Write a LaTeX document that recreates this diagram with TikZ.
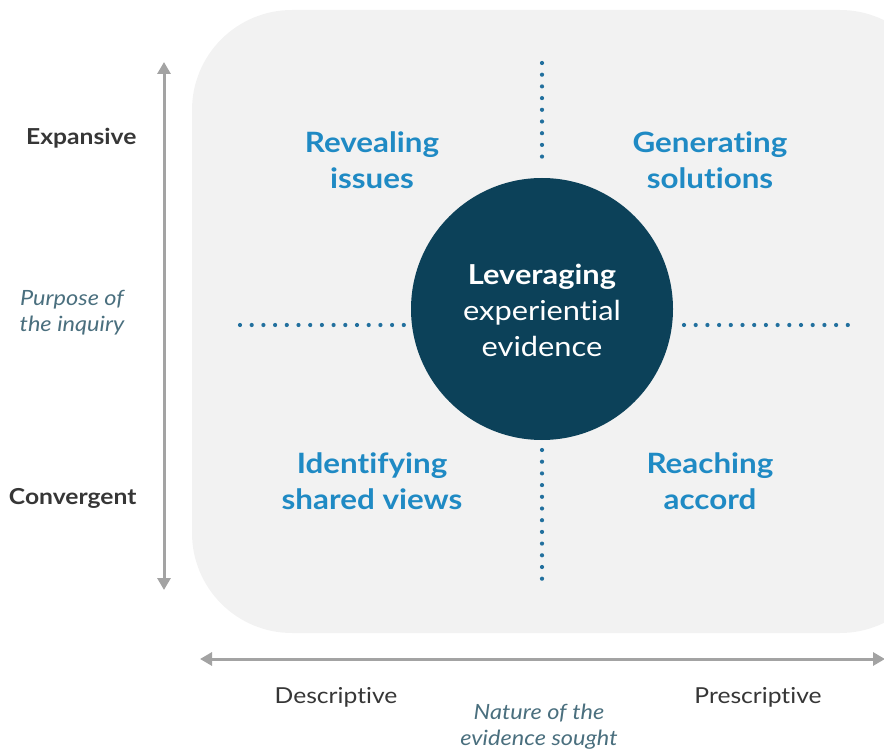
\documentclass[tikz,border=0pt]{standalone}
\usepackage{fontspec}
\setmainfont{Lato}[FakeStretch=1.12, Ligatures=NoCommon, RawFeature=-liga]
\usetikzlibrary{arrows.meta}
\definecolor{panel}{HTML}{F2F2F2}
\definecolor{quadblue}{HTML}{1F8AC4}
\definecolor{hub}{HTML}{0C4159}
\definecolor{dotblue}{HTML}{22709E}
\definecolor{axisgray}{HTML}{A3A3A3}
\definecolor{labelgray}{HTML}{363636}
\definecolor{axisname}{HTML}{4A6F7E}
\tikzset{
  quad/.style={align=center, text=quadblue, font=\fontsize{28}{36}\selectfont\bfseries},
  pole/.style={text=labelgray, font=\fontsize{22}{26}\selectfont\bfseries},
  axistitle/.style={align=center, text=axisname, font=\fontsize{21}{26}\selectfont\itshape},
  axisline/.style={draw=axisgray, line width=3pt, {Triangle[length=12pt,width=13pt]}-{Triangle[length=12pt,width=13pt]}},
  dotline/.style={draw=dotblue, line width=4.2pt, line cap=round, dash pattern=on 0pt off 11.7pt},
}
\begin{document}
\begin{tikzpicture}[x=1pt, y=-1pt]
\useasboundingbox (0,0) rectangle (884,751);
\clip (0,0) rectangle (884,751);
% background panel
\fill[panel, rounded corners=100pt] (192,10) rectangle (940,633);
% dotted axes of the quadrants
\coordinate (vt1) at (542,63);  \coordinate (vt2) at (542,168);
\coordinate (vb1) at (542,450); \coordinate (vb2) at (542,590);
\coordinate (hl1) at (240,325); \coordinate (hl2) at (404,325);
\coordinate (hr1) at (684,325); \coordinate (hr2) at (848,325);
\draw[dotline] (vt1) -- (vt2);
\draw[dotline] (vb1) -- (vb2);
\draw[dotline] (hl1) -- (hl2);
\draw[dotline] (hr1) -- (hr2);
% central circle
\node[circle, fill=hub, minimum size=262pt, inner sep=0pt] (hubc) at (542,309) {};
\node[align=center, text=white, font=\fontsize{27.5}{36}\selectfont] (hubtext) at (542,310)
  {\textbf{Leveraging}\\experiential\\evidence};
% quadrant labels
\node[quad] (q1) at (372,160) {Revealing\\issues};
\node[quad] (q2) at (710,160) {Generating\\solutions};
\node[quad] (q3) at (372,481) {Identifying\\shared views};
\node[quad] (q4) at (710,481) {Reaching\\accord};
% vertical axis
\coordinate (ytop) at (164,62);
\coordinate (ybot) at (164,590);
\draw[axisline] (ybot) -- (ytop);
\node[pole, anchor=east] (expansive) at (140,138) {Expansive};
\node[pole, anchor=east] (convergent) at (140,498) {Convergent};
\node[axistitle] (purpose) at (72,313) {Purpose of\\the inquiry};
% horizontal axis
\coordinate (xleft) at (200,659);
\coordinate (xright) at (885,659);
\draw[axisline] (xleft) -- (xright);
\node[pole, font=\fontsize{22}{26}\selectfont] (descr) at (336,697) {Descriptive};
\node[pole, font=\fontsize{22}{26}\selectfont] (prescr) at (758,697) {Prescriptive};
\node[axistitle] (nature) at (539,727) {Nature of the\\evidence sought};
\end{tikzpicture}
\end{document}
